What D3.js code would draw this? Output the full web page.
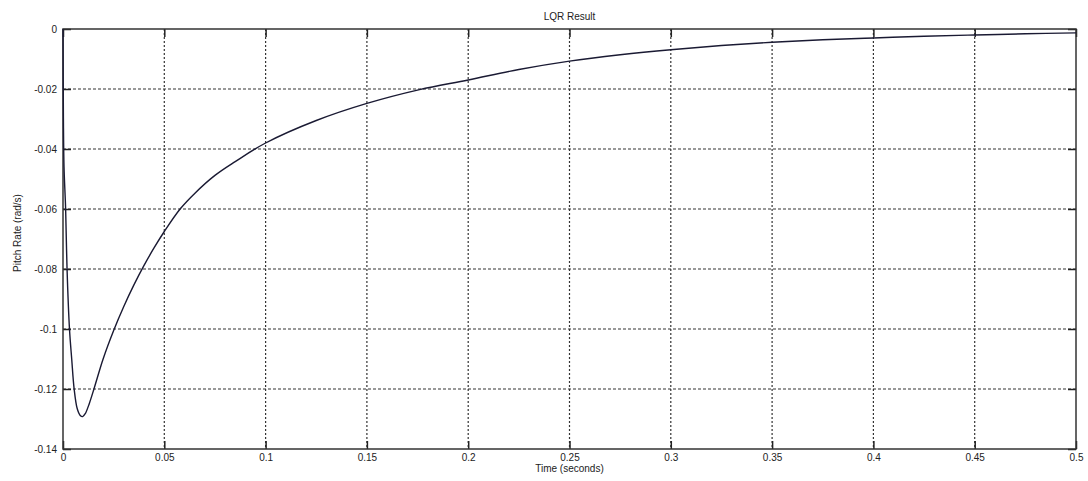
<!DOCTYPE html>
<html>
<head>
<meta charset="utf-8">
<script src="https://cdn.jsdelivr.net/npm/d3@7"></script>
<style>
  body { margin: 0; background: #fff; }
  text { font-family: "Liberation Sans", Arial, sans-serif; fill: #222; }
</style>
</head>
<body>
<div id="viz"></div>
<script>
// time (s) and pitch rate (rad/s)
const time = [0, 0.0002, 0.0005, 0.0013, 0.002, 0.0032, 0.0043, 0.0055, 0.007, 0.0085, 0.0097,
  0.011, 0.013, 0.0155, 0.0198, 0.025, 0.03, 0.035, 0.04, 0.045, 0.05, 0.0578, 0.065, 0.075,
  0.085, 0.1, 0.125, 0.15, 0.176, 0.2, 0.225, 0.25, 0.275, 0.3, 0.325, 0.35, 0.375, 0.4,
  0.425, 0.45, 0.475, 0.5];
const pitchRate = [0, -0.03, -0.046, -0.06, -0.08, -0.1, -0.11, -0.12, -0.1265, -0.1288, -0.1292,
  -0.1282, -0.1248, -0.1195, -0.11, -0.1005, -0.0925, -0.0853, -0.0788, -0.0729, -0.0675, -0.06,
  -0.0548, -0.0488, -0.0442, -0.038, -0.0305, -0.0248, -0.0202, -0.017, -0.0135, -0.0107,
  -0.0086, -0.0069, -0.0055, -0.0044, -0.0036, -0.003, -0.0024, -0.002, -0.0016, -0.0013];

const xTicks = [0, 0.05, 0.1, 0.15, 0.2, 0.25, 0.3, 0.35, 0.4, 0.45, 0.5];
const yTicks = [0, -0.02, -0.04, -0.06, -0.08, -0.1, -0.12, -0.14];

const width = 1088, height = 481;
const margin = {top: 29, right: 12, bottom: 32, left: 63};

const svg = d3.select('#viz').append('svg')
    .attr('width', width)
    .attr('height', height);

const x = d3.scaleLinear()
    .domain([0, 0.5])
    .range([margin.left, width - margin.right]);

const y = d3.scaleLinear()
    .domain([-0.14, 0])
    .range([height - margin.bottom, margin.top]);

const fmt = d => d === 0 ? '0' : String(+d.toFixed(3));

// grid lines
svg.append('g')
  .selectAll('line').data(xTicks.slice(1, -1)).enter().append('line')
    .attr('x1', d => x(d)).attr('x2', d => x(d))
    .attr('y1', y(0)).attr('y2', y(-0.14))
    .attr('stroke', '#333').attr('stroke-width', 1.2)
    .attr('stroke-dasharray', '2,2');

svg.append('g')
  .selectAll('line').data(yTicks.slice(1, -1)).enter().append('line')
    .attr('x1', x(0)).attr('x2', x(0.5))
    .attr('y1', d => y(d)).attr('y2', d => y(d))
    .attr('stroke', '#333').attr('stroke-width', 1.2)
    .attr('stroke-dasharray', '3,2');

// axes, ticks pointing inward like MATLAB
const tick = 8;
svg.append('g')
    .attr('transform', `translate(0,${y(-0.14)})`)
    .call(d3.axisBottom(x).tickValues(xTicks).tickFormat(fmt).tickSize(-tick).tickPadding(5))
    .call(g => g.select('.domain').remove());

svg.append('g')
    .attr('transform', `translate(0,${y(0)})`)
    .call(d3.axisTop(x).tickValues(xTicks).tickFormat('').tickSize(-tick))
    .call(g => g.select('.domain').remove());

svg.append('g')
    .attr('transform', `translate(${x(0)},0)`)
    .call(d3.axisLeft(y).tickValues(yTicks).tickFormat(fmt).tickSize(-tick).tickPadding(6))
    .call(g => g.select('.domain').remove());

svg.append('g')
    .attr('transform', `translate(${x(0.5)},0)`)
    .call(d3.axisRight(y).tickValues(yTicks).tickFormat('').tickSize(-tick))
    .call(g => g.select('.domain').remove());

svg.selectAll('.tick line').attr('stroke', '#222').attr('stroke-width', 1.5);
svg.selectAll('.tick text').attr('font-size', 10).attr('fill', '#222');

svg.append('rect')
    .attr('x', x(0)).attr('y', y(0))
    .attr('width', x(0.5) - x(0))
    .attr('height', y(-0.14) - y(0))
    .attr('fill', 'none')
    .attr('stroke', '#333')
    .attr('stroke-width', 1.5);

// response curve
const line = d3.line()
    .x((d, i) => x(time[i]))
    .y(d => y(d))
    .curve(d3.curveCatmullRom.alpha(0.5));

svg.append('path')
    .datum(pitchRate)
    .attr('d', line)
    .attr('fill', 'none')
    .attr('stroke', '#1a1a33')
    .attr('stroke-width', 1.4);

// labels
svg.append('text')
    .attr('x', x(0.25)).attr('y', 20)
    .attr('text-anchor', 'middle')
    .attr('font-size', 10)
    .text('LQR Result');

svg.append('text')
    .attr('x', x(0.25)).attr('y', 472)
    .attr('text-anchor', 'middle')
    .attr('font-size', 10)
    .text('Time (seconds)');

svg.append('text')
    .attr('transform', `translate(21,${y(-0.07) - 6}) rotate(-90)`)
    .attr('text-anchor', 'middle')
    .attr('font-size', 10)
    .text('Pitch Rate (rad/s)');
</script>
</body>
</html>
